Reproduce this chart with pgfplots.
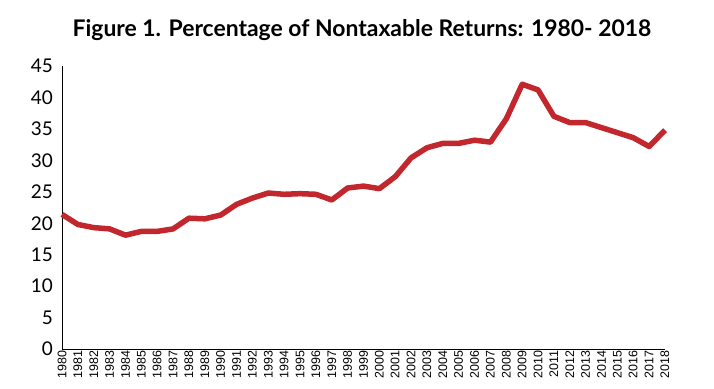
\documentclass[border=0pt]{standalone}
\usepackage{fontspec}
\setmainfont{Lato}
\newfontfamily\arialfont{Liberation Sans}
\usepackage{pgfplots}
\pgfplotsset{compat=1.18}
\definecolor{linered}{RGB}{193,39,45}
\begin{document}
\begin{tikzpicture}
\begin{axis}[
  at={(0,0)}, anchor=south west,
  scale only axis,
  width=603bp, height=283bp,
  xmin=1980, xmax=2018,
  ymin=0, ymax=45,
  axis lines*=left,
  axis line style={black, line width=0.9pt, -},
  xtick={1980,...,2018},
  ytick={0,5,...,45},
  major tick length=0pt,
  /pgf/number format/assume math mode=true,
  x tick label style={rotate=90, anchor=east, font=\arialfont\fontsize{12.5}{13}\selectfont, inner sep=1.5bp},
  xticklabel={\pgfmathprintnumber[1000 sep={}]{\tick}},
  y tick label style={font=\fontsize{19}{20}\selectfont, inner sep=0pt, xshift=-9bp},
  clip=false,
]
\addplot[linered, line width=5.5bp, line join=round] coordinates {
(1980,21.4) (1981,19.8) (1982,19.3) (1983,19.1) (1984,18.1) (1985,18.7)
(1986,18.7) (1987,19.1) (1988,20.8) (1989,20.7) (1990,21.3) (1991,23.0)
(1992,24.0) (1993,24.8) (1994,24.6) (1995,24.7) (1996,24.6) (1997,23.7)
(1998,25.6) (1999,25.9) (2000,25.5) (2001,27.4) (2002,30.4) (2003,32.0)
(2004,32.7) (2005,32.7) (2006,33.2) (2007,32.9) (2008,36.6) (2009,42.1)
(2010,41.2) (2011,37.0) (2012,36.0) (2013,36.0) (2014,35.2) (2015,34.4)
(2016,33.6) (2017,32.2) (2018,34.8)
};
\end{axis}
\node[font=\bfseries\fontsize{23}{24}\selectfont, anchor=base] at (300bp,312bp) {Figure 1. Percentage of Nontaxable Returns: 1980- 2018};
\pgfresetboundingbox
\path[use as bounding box] (-62bp,-40bp) rectangle (652bp,349bp);
\end{tikzpicture}
\end{document}
